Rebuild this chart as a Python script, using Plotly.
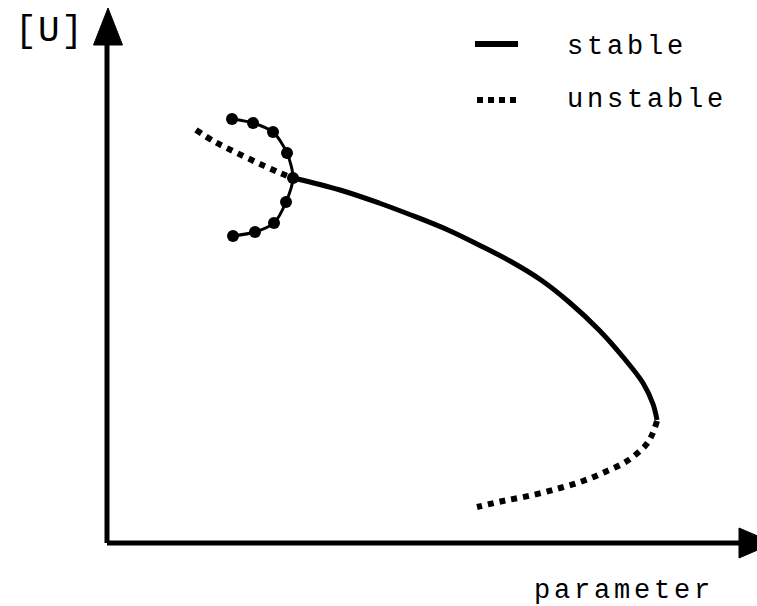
import plotly.graph_objects as go

# Stable equilibrium branch (parameter, [U])
stable_p = [1.86, 2.33, 2.72, 3.04, 3.41, 3.72, 4.03, 4.34, 4.62, 4.92, 5.16, 5.36, 5.46, 5.50]
stable_u = [3.65, 3.53, 3.40, 3.28, 3.13, 2.98, 2.82, 2.63, 2.41, 2.13, 1.86, 1.60, 1.39, 1.23]

# Unstable branch before the Hopf point
unstable_hi_p = [0.89, 1.08, 1.28, 1.51, 1.73, 1.86]
unstable_hi_u = [4.13, 4.01, 3.91, 3.80, 3.70, 3.65]

# Unstable branch after the fold
unstable_lo_p = [5.50, 5.45, 5.38, 5.20, 4.98, 4.76, 4.53, 4.26, 3.96, 3.70]
unstable_lo_u = [1.22, 1.08, 0.97, 0.82, 0.71, 0.62, 0.55, 0.48, 0.42, 0.36]

# Periodic orbit extrema emanating from the Hopf point
orbit_p = [1.25, 1.46, 1.66, 1.80, 1.86, 1.79, 1.67, 1.48, 1.26]
orbit_u = [4.24, 4.20, 4.11, 3.90, 3.65, 3.41, 3.20, 3.11, 3.07]

legend_labels = ["stable", "unstable"]
axis_titles = ["parameter", "[U]"]

W, H = 757, 606
X0, X1 = -1.07, 6.50
Y0, Y1 = -0.63, 5.43

fig = go.Figure()

dotted = dict(color="black", width=6, dash="6px,6px", shape="spline", smoothing=1.0)
fig.add_trace(go.Scatter(x=unstable_hi_p, y=unstable_hi_u, mode="lines",
                         line=dotted, hoverinfo="skip"))
fig.add_trace(go.Scatter(x=unstable_lo_p, y=unstable_lo_u, mode="lines",
                         line=dotted, hoverinfo="skip"))
fig.add_trace(go.Scatter(x=stable_p, y=stable_u, mode="lines",
                         line=dict(color="black", width=5, shape="spline", smoothing=1.0),
                         hoverinfo="skip"))
fig.add_trace(go.Scatter(x=orbit_p, y=orbit_u, mode="lines+markers",
                         line=dict(color="black", width=3, shape="spline", smoothing=0.8),
                         marker=dict(color="black", size=12),
                         hoverinfo="skip"))

# axes drawn as thick lines with filled arrowheads
fig.add_shape(type="line", x0=0, y0=0, x1=0, y1=5.0, line=dict(color="black", width=5))
fig.add_shape(type="line", x0=0, y0=0, x1=6.35, y1=0, line=dict(color="black", width=5))
fig.add_shape(type="path", path="M -0.135,4.98 L 0.01,5.35 L 0.155,4.98 Z",
              fillcolor="black", line=dict(color="black", width=1))
fig.add_shape(type="path", path="M 6.32,0.15 L 6.67,0.0 L 6.32,-0.15 Z",
              fillcolor="black", line=dict(color="black", width=1))

# legend samples
fig.add_shape(type="line", xref="paper", yref="paper",
              x0=475 / W, x1=518 / W, y0=1 - 44 / H, y1=1 - 44 / H,
              line=dict(color="black", width=6))
fig.add_shape(type="line", xref="paper", yref="paper",
              x0=477 / W, x1=520 / W, y0=1 - 100 / H, y1=1 - 100 / H,
              line=dict(color="black", width=6, dash="6px,5px"))

font = "Liberation Mono"


def label(px, py, text, size):
    fig.add_annotation(x=px / W, y=1 - py / H, xref="paper", yref="paper", text=text,
                       showarrow=False, xanchor="left", yanchor="middle", align="left",
                       font=dict(family=font, size=size, color="black"))


label(565, 47, legend_labels[0], 27)
label(565, 100, legend_labels[1], 27)
label(532, 591, axis_titles[0], 27)
label(13, 32, axis_titles[1], 36)

fig.update_layout(
    width=W, height=H,
    margin=dict(l=0, r=0, t=0, b=0),
    paper_bgcolor="white", plot_bgcolor="white",
    showlegend=False,
    xaxis=dict(range=[X0, X1], visible=False, fixedrange=True),
    yaxis=dict(range=[Y0, Y1], visible=False, fixedrange=True),
)

# widen the typewriter lettering a little
spacing_js = """
var gd = document.getElementById('{plot_id}');
gd.querySelectorAll('text.annotation-text').forEach(function (t) {
  var big = t.textContent === '[U]';
  t.style.letterSpacing = big ? '1.5px' : '3.8px';
});
"""

fig.write_html("out.html", post_script=spacing_js)
